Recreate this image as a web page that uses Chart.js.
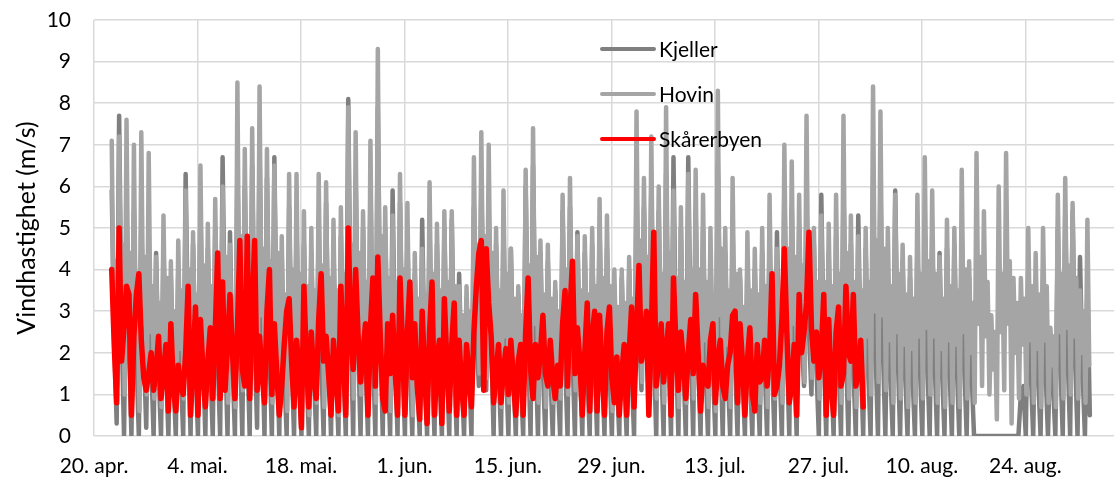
<!DOCTYPE html>
<html>
  <head>
    <meta charset="utf-8" />
    <title>Vindhastighet</title>
    <script src="https://cdn.jsdelivr.net/npm/chart.js"></script>
    <style>
      body {
        margin: 0;
        background: #ffffff;
      }
    </style>
  </head>

  <body>
    <canvas id="vind" width="1115" height="481"></canvas>

    <script>
      // Aksen starter 20. apr. (dag 0), en etikett hver 14. dag
      const TICK_LABELS = ["20. apr.", "4. mai.", "18. mai.", "1. jun.", "15. jun.",
        "29. jun.", "13. jul.", "27. jul.", "10. aug.", "24. aug."];

      const START_DAY = 2.4; // første måling, 22. apr. formiddag

      // m/s, tre verdier per døgn fra 22. apr. (dag, kveld, natt)
      const kjeller = [
        5.9, 2.4, 0.3, 7.7, 2.6, 0.0, 5.5, 2.2, 0.0, 5.4, 2.0, 0.0, 5.3, 2.1, 0.2, 4.5, 1.8, 0.0, 4.4, 1.6, 0.0,
        4.6, 1.7, 0.0, 3.8, 1.5, 0.0, 4.0, 1.6, 0.0, 6.3, 2.2, 0.0, 4.6, 1.7, 0.0, 5.5, 2.0, 0.0, 4.5, 1.7, 0.0,
        5.0, 1.9, 0.0, 6.7, 2.3, 0.0, 4.9, 1.8, 0.0, 6.5, 2.4, 0.0, 6.0, 2.2, 0.0, 6.5, 2.3, 0.2, 7.0, 2.4, 0.0,
        6.2, 2.1, 0.0, 6.7, 2.2, 0.0, 4.3, 1.6, 0.0, 5.5, 1.9, 0.0, 5.0, 1.8, 0.0, 4.6, 1.7, 0.0, 4.4, 1.6, 0.0,
        5.2, 1.9, 0.0, 5.6, 2.0, 0.0, 4.5, 1.6, 0.0, 4.8, 1.8, 0.0, 8.1, 2.6, 0.0, 6.2, 2.2, 0.0, 5.0, 1.8, 0.0,
        6.0, 2.1, 0.0, 7.9, 2.5, 0.0, 5.0, 1.8, 0.0, 5.9, 2.0, 0.0, 5.6, 1.9, 0.0, 4.8, 1.7, 0.0, 3.9, 1.5, 0.0,
        5.2, 1.8, 0.0, 5.0, 1.8, 0.0, 4.6, 1.7, 0.0, 5.0, 1.8, 0.0, 5.2, 1.8, 0.0, 3.9, 1.5, 0.0, 3.3, 1.6, 0.0,
        5.5, 2.6, 1.2, 6.0, 2.8, 1.1, 5.5, 2.4, 0.0, 4.6, 1.7, 0.0, 5.0, 1.8, 0.0, 4.5, 1.6, 0.0, 3.4, 1.4, 0.0,
        6.0, 2.1, 0.0, 6.5, 2.2, 0.0, 4.4, 1.6, 0.0, 4.2, 1.6, 0.0, 3.5, 1.4, 0.0, 5.4, 1.9, 0.0, 5.5, 2.0, 0.0,
        4.9, 1.8, 0.0, 4.4, 1.6, 0.0, 4.6, 1.7, 0.0, 5.0, 1.8, 0.0, 4.5, 1.7, 0.0, 3.6, 1.4, 0.0, 3.8, 1.5, 0.0,
        4.0, 1.6, 0.0, 6.0, 2.6, 1.1, 5.5, 2.5, 1.2, 6.0, 2.1, 0.0, 5.4, 1.9, 0.0, 6.3, 2.2, 0.0, 6.7, 2.2, 0.0,
        5.0, 1.8, 0.0, 6.7, 2.2, 0.0, 5.4, 1.9, 0.0, 5.0, 1.8, 0.0, 4.4, 1.6, 0.0, 6.5, 2.2, 0.0, 4.4, 1.6, 0.0,
        5.0, 1.8, 0.0, 3.8, 1.5, 0.0, 4.2, 1.6, 0.0, 4.0, 1.6, 0.0, 4.4, 1.7, 0.0, 4.8, 1.8, 0.0, 4.9, 1.8, 0.0,
        6.0, 2.1, 0.0, 5.5, 2.0, 0.0, 5.0, 2.4, 1.2, 5.6, 2.5, 1.0, 4.6, 1.7, 0.0, 5.8, 2.0, 0.0, 4.4, 1.6, 0.0,
        4.8, 1.8, 0.0, 6.0, 2.1, 0.0, 4.6, 1.7, 0.0, 5.3, 1.9, 0.0, 4.5, 1.7, 0.0, 6.0, 2.1, 0.0, 6.0, 2.1, 0.0,
        4.0, 1.6, 0.0, 5.9, 2.0, 0.0, 4.2, 1.6, 0.0, 3.8, 1.5, 0.0, 4.6, 1.7, 0.0, 5.0, 1.8, 0.0, 4.8, 1.8, 0.0,
        4.4, 1.6, 0.0, 4.5, 1.7, 0.0, 4.6, 1.7, 0.0, 4.9, 1.8, 0.0, 3.8, 1.5, 0.0, 0.0, 0.0, 0.0, 0.0, 0.0, 0.0,
        0.0, 0.0, 0.0, 0.0, 0.0, 0.0, 0.0, 0.0, 0.0, 0.0, 0.0, 0.0, 1.0, 1.2, 0.0, 4.0, 1.6, 0.0, 3.6, 1.5, 0.0,
        4.0, 1.6, 0.0, 2.3, 1.3, 0.0, 5.0, 1.8, 0.0, 5.3, 1.9, 0.0, 5.4, 1.9, 0.0, 4.3, 1.6, 0.0,
        3.6, 0.5
      ];

      // m/s, fire verdier per døgn fra 22. apr. (topp, dupp, ettermiddag, natt)
      const hovin = [
        7.1, 2.6, 4.2, 1.2, 7.2, 3.0, 4.6, 1.0, 7.6, 2.8, 4.4, 0.8, 7.0, 2.4, 3.9, 0.6, 7.3, 2.7, 4.3, 1.0,
        6.8, 2.5, 3.6, 0.9, 4.3, 2.0, 3.2, 0.7, 5.3, 2.2, 3.8, 0.8, 4.2, 1.9, 3.0, 0.6, 4.7, 2.1, 3.5, 0.9,
        5.9, 2.4, 4.0, 0.7, 4.9, 2.0, 3.4, 0.6, 6.5, 2.6, 4.1, 0.8, 5.1, 2.2, 3.6, 0.9, 5.7, 2.4, 3.9, 1.0,
        6.0, 2.7, 4.3, 0.8, 4.6, 2.1, 3.3, 0.7, 8.5, 3.0, 4.8, 1.1, 6.9, 2.8, 4.4, 1.0, 7.4, 3.0, 4.6, 1.2,
        8.4, 2.9, 4.5, 0.9, 6.9, 2.6, 4.2, 0.8, 6.5, 2.8, 4.4, 0.9, 4.8, 2.0, 3.4, 0.6, 6.3, 2.4, 4.0, 0.7,
        6.3, 2.3, 3.9, 0.6, 5.4, 2.2, 3.6, 0.5, 5.0, 2.0, 3.5, 0.8, 6.3, 2.5, 4.1, 0.7, 6.1, 2.3, 3.8, 0.6,
        5.2, 2.1, 3.5, 0.5, 5.5, 2.4, 3.9, 0.7, 7.9, 2.9, 4.6, 0.9, 7.3, 2.8, 4.4, 1.0, 5.4, 2.3, 3.7, 0.7,
        7.1, 2.6, 4.3, 0.8, 9.3, 3.0, 4.8, 1.0, 5.5, 2.4, 3.8, 0.6, 5.3, 2.3, 3.7, 0.7, 6.3, 2.5, 4.0, 0.6,
        5.6, 2.2, 3.6, 0.5, 4.4, 2.0, 3.3, 0.7, 4.5, 2.1, 3.4, 0.6, 6.1, 2.4, 3.9, 0.5, 5.1, 2.2, 3.5, 0.6,
        5.4, 2.3, 3.7, 0.7, 5.4, 2.1, 3.6, 0.6, 3.6, 1.8, 2.9, 0.8, 3.6, 1.9, 3.0, 1.0, 6.7, 3.0, 4.6, 1.5,
        7.3, 3.2, 4.8, 1.4, 7.0, 2.9, 4.4, 1.2, 5.0, 2.2, 3.5, 0.7, 5.9, 2.4, 3.9, 0.8, 4.5, 2.0, 3.3, 0.6,
        3.6, 1.8, 2.9, 0.7, 6.4, 2.6, 4.1, 0.9, 7.4, 2.7, 4.3, 0.8, 4.7, 2.1, 3.4, 0.7, 4.6, 2.0, 3.3, 0.8,
        3.7, 1.8, 3.0, 0.9, 5.8, 2.5, 4.0, 1.0, 6.2, 2.6, 4.2, 1.1, 4.8, 2.2, 3.5, 0.7, 4.8, 2.1, 3.4, 0.6,
        5.0, 2.2, 3.6, 0.6, 5.7, 2.3, 3.8, 0.7, 5.3, 2.2, 3.6, 0.6, 4.0, 1.9, 3.1, 0.7, 4.0, 2.0, 3.2, 0.6,
        4.3, 2.1, 3.3, 0.8, 7.8, 3.0, 4.7, 1.3, 6.2, 2.8, 4.3, 1.4, 7.2, 2.6, 4.2, 0.9, 6.0, 2.5, 3.9, 0.8,
        7.9, 2.7, 4.4, 0.9, 5.9, 2.4, 3.8, 0.7, 5.5, 2.3, 3.7, 0.8, 6.3, 2.6, 4.0, 0.9, 6.4, 2.5, 4.0, 0.8,
        5.8, 2.3, 3.7, 0.7, 5.0, 2.1, 3.4, 0.6, 8.3, 2.9, 4.5, 0.9, 5.0, 2.2, 3.5, 0.7, 6.2, 2.4, 3.9, 0.8,
        4.0, 1.9, 3.1, 0.6, 4.9, 2.2, 3.5, 0.7, 4.5, 2.1, 3.4, 0.8, 5.0, 2.3, 3.6, 0.7, 5.8, 2.5, 3.9, 0.9,
        4.5, 2.2, 3.4, 0.8, 7.0, 2.9, 4.5, 1.1, 6.6, 2.7, 4.3, 1.0, 5.8, 2.7, 4.1, 1.3, 7.7, 3.0, 4.6, 1.4,
        5.0, 2.4, 3.7, 0.9, 5.3, 2.3, 3.7, 0.7, 5.1, 2.2, 3.6, 0.6, 5.8, 2.4, 3.9, 0.8, 7.7, 2.7, 4.4, 0.9,
        5.3, 2.3, 3.7, 0.7, 4.8, 2.2, 3.5, 0.8, 5.0, 2.4, 3.7, 1.0, 8.4, 3.0, 4.7, 1.3, 7.8, 2.9, 4.5, 1.1,
        5.0, 2.3, 3.6, 0.8, 5.8, 2.5, 3.9, 0.9, 4.6, 2.2, 3.4, 0.7, 4.3, 2.1, 3.3, 0.8, 5.8, 2.4, 3.9, 0.9,
        6.7, 2.6, 4.2, 1.0, 5.9, 2.4, 3.9, 0.8, 4.3, 2.1, 3.3, 0.7, 5.2, 2.3, 3.6, 0.8, 5.0, 2.2, 3.5, 0.7,
        6.4, 2.5, 4.0, 0.9, 4.2, 2.0, 3.2, 0.8, 6.8, 2.7, 4.3, 1.2, 5.4, 2.4, 3.7, 1.0, 2.9, 1.6, 2.5, 0.4,
        6.0, 2.5, 3.9, 1.1, 6.8, 2.7, 4.2, 0.3, 3.8, 2.0, 3.2, 0.9, 3.8, 2.2, 3.3, 1.0, 5.0, 2.3, 3.6, 0.8,
        4.4, 2.1, 3.4, 0.7, 5.0, 2.3, 3.6, 0.8, 2.6, 1.7, 2.4, 0.7, 5.8, 2.5, 3.9, 0.9, 6.2, 2.6, 4.1, 1.0,
        5.6, 2.4, 3.8, 0.9, 3.5, 2.0, 3.0, 0.8,
        5.2, 1.7
      ];

      // m/s, tre verdier per døgn fra 22. apr., slutter 2. aug.
      const skarerbyen = [
        4.0, 2.2, 0.8, 5.0, 1.8, 2.6, 3.6, 3.4, 0.5, 2.4, 3.4, 3.9, 2.3, 1.4, 1.1, 1.5, 2.0, 1.1, 1.6, 2.4, 0.9,
        1.5, 2.2, 0.6, 2.7, 1.2, 0.6, 1.7, 1.2, 1.0, 2.0, 3.6, 0.5, 1.8, 3.1, 0.5, 2.8, 1.6, 0.7, 1.8, 2.6, 0.9,
        2.5, 4.4, 0.9, 3.7, 1.1, 2.2, 3.4, 2.0, 0.9, 2.5, 4.7, 1.6, 1.2, 4.8, 0.9, 3.0, 4.7, 1.1, 2.4, 1.5, 0.8,
        3.0, 4.0, 1.0, 2.7, 1.5, 0.5, 1.2, 2.2, 3.0, 3.3, 1.8, 0.7, 2.3, 1.6, 0.2, 3.6, 1.8, 0.7, 2.5, 1.4, 0.9,
        2.8, 3.9, 1.8, 2.4, 1.5, 0.5, 2.3, 1.4, 0.6, 3.6, 2.0, 0.5, 5.0, 2.5, 1.6, 4.0, 2.4, 1.3, 2.0, 2.7, 0.5,
        2.6, 3.8, 1.2, 4.3, 2.4, 0.9, 0.6, 2.7, 1.5, 2.9, 1.6, 0.5, 3.8, 2.2, 0.5, 2.5, 3.7, 1.4, 2.7, 1.2, 0.4,
        3.0, 1.5, 0.3, 2.5, 3.7, 0.5, 1.8, 2.3, 0.3, 3.3, 1.8, 0.6, 2.2, 3.2, 0.5, 2.3, 1.2, 0.5, 2.2, 1.4, 0.7,
        2.5, 3.6, 4.4, 4.7, 1.1, 4.5, 3.2, 2.4, 0.8, 1.5, 2.2, 0.8, 1.6, 2.1, 1.0, 2.3, 1.4, 0.5, 1.8, 2.2, 0.5,
        2.5, 3.8, 1.6, 0.9, 2.2, 1.4, 2.0, 2.9, 1.5, 1.2, 2.3, 1.4, 0.9, 1.7, 1.2, 2.7, 3.5, 1.2, 3.0, 4.2, 1.5,
        2.6, 1.8, 0.5, 2.0, 3.2, 0.6, 2.4, 3.0, 0.6, 2.9, 1.6, 0.5, 2.5, 3.1, 1.4, 0.8, 1.9, 0.5, 1.5, 2.2, 0.5,
        2.0, 3.1, 0.7, 2.5, 4.1, 1.8, 2.2, 3.0, 0.5, 2.5, 4.9, 1.2, 1.8, 2.7, 1.3, 2.0, 2.7, 0.5, 3.8, 2.2, 1.1,
        2.5, 1.8, 0.9, 2.0, 2.8, 1.5, 3.4, 2.0, 0.6, 1.7, 1.3, 1.2, 2.3, 2.7, 0.8, 1.8, 2.3, 1.2, 0.9, 1.7, 2.0,
        2.9, 3.0, 0.8, 2.7, 1.8, 0.5, 1.8, 2.6, 1.0, 0.6, 2.2, 1.3, 1.4, 2.3, 1.2, 2.0, 3.9, 1.0, 1.2, 1.7, 2.8,
        4.5, 2.5, 0.8, 1.2, 2.2, 0.5, 3.4, 2.0, 2.5, 3.2, 4.9, 2.6, 1.8, 2.5, 1.4, 2.0, 3.4, 0.5, 2.8, 1.2, 0.5,
        2.5, 3.1, 1.2, 1.5, 3.6, 2.0, 1.8, 3.4, 1.2, 1.5, 2.3, 0.7
      ];

      function somPunkter(verdier, perDoegn) {
        return verdier.map((v, i) => ({ x: START_DAY + i / perDoegn, y: v }));
      }

      const FONT = { family: "Lato", size: 21 };
      const GRID = "#d9d9d9";

      // Tegnforklaring inne i plottet, tegnet over kurvene
      const tegnforklaring = {
        id: "tegnforklaring",
        afterDatasetsDraw(chart) {
          const ctx = chart.ctx;
          const x0 = chart.chartArea.left + 508;
          ctx.save();
          chart.data.datasets.forEach((ds, i) => {
            const y = 49 + i * 45;
            ctx.strokeStyle = ds.borderColor;
            ctx.lineWidth = 4;
            ctx.lineCap = "round";
            ctx.beginPath();
            ctx.moveTo(x0, y);
            ctx.lineTo(x0 + 52, y);
            ctx.stroke();
            ctx.fillStyle = "#000000";
            ctx.font = FONT.size + "px " + FONT.family;
            ctx.textBaseline = "middle";
            ctx.fillText(ds.label, x0 + 57, y + 1);
          });
          ctx.restore();
        },
      };

      new Chart(document.getElementById("vind"), {
        type: "line",
        data: {
          datasets: [
            { label: "Kjeller", data: somPunkter(kjeller, 3), borderColor: "#7f7f7f", borderWidth: 4.5, order: 3 },
            { label: "Hovin", data: somPunkter(hovin, 4), borderColor: "#a5a5a5", borderWidth: 4.5, order: 2 },
            { label: "Skårerbyen", data: somPunkter(skarerbyen, 3), borderColor: "#ff0000", borderWidth: 5.5, order: 1 },
          ],
        },
        options: {
          responsive: false,
          animation: false,
          layout: { padding: { top: 20, right: 1, bottom: 0, left: 0 } },
          elements: {
            point: { radius: 0 },
            line: { tension: 0, borderJoinStyle: "round", borderCapStyle: "round", fill: false },
          },
          plugins: { legend: { display: false }, tooltip: { enabled: false } },
          scales: {
            x: {
              type: "linear",
              min: 0,
              max: 138,
              border: { display: false },
              grid: { color: GRID, lineWidth: 1.5, drawTicks: false },
              ticks: {
                stepSize: 14,
                includeBounds: false,
                autoSkip: false,
                maxRotation: 0,
                padding: 18,
                color: "#000000",
                font: FONT,
                callback: (v) => TICK_LABELS[v / 14] ?? "",
              },
              afterFit: (scale) => { scale.height = 45; },
            },
            y: {
              min: 0,
              max: 10,
              border: { display: false },
              grid: { color: GRID, lineWidth: 1.5, drawTicks: false },
              ticks: { stepSize: 1, padding: 23, color: "#000000", font: FONT },
              title: {
                display: true,
                text: "Vindhastighet (m/s)",
                color: "#000000",
                font: { family: "Lato", size: 25 },
                padding: { top: 12, bottom: 0 },
              },
              afterFit: (scale) => {
                scale.width = 94;
                // etikettavstanden skal ikke skyve plottet ned
                scale.paddingTop = 0;
                scale.paddingBottom = 0;
              },
            },
          },
        },
        plugins: [tegnforklaring],
      });
    </script>
  </body>
</html>
